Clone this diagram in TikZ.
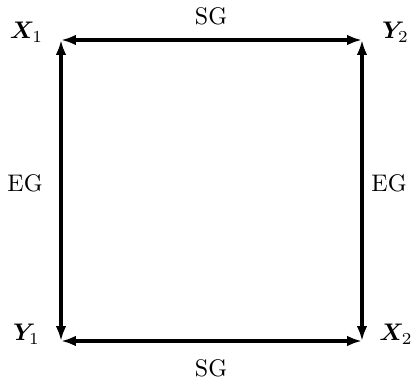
\documentclass[tikz,border=0pt]{standalone}
\usepackage{amsmath}
\usepackage{bm}
\usetikzlibrary{arrows.meta}
\tikzset{
  edge/.style={line width=1.6pt, {Latex[length=6.2pt,width=4.4pt]}-{Latex[length=6.2pt,width=4.4pt]}},
  lab/.style={anchor=base, inner sep=0pt, font=\normalsize}
}
\begin{document}
\begin{tikzpicture}[x=0.41667pt, y=-0.41667pt]
\useasboundingbox (0,0) rectangle (414,384);
\coordinate (X1) at (61,40);
\coordinate (Y2) at (362,40);
\coordinate (Y1) at (61,341);
\coordinate (X2) at (362,341);
\draw[edge] (X1) -- (Y2);
\draw[edge] (Y1) -- (X2);
\draw[edge] (Y1) -- (X1);
\draw[edge] (X2) -- (Y2);
\node[lab] (lX1) at (26.5,39) {$\bm{X}_1$};
\node[lab] (lY2) at (395.5,38.5) {$\bm{Y}_2$};
\node[lab] (lY1) at (26.5,341) {$\bm{Y}_1$};
\node[lab] (lX2) at (396,341) {$\bm{X}_2$};
\node[lab] (sgt) at (211,25) {SG};
\node[lab] (sgb) at (211,377) {SG};
\node[lab] (egl) at (25,192) {EG};
\node[lab] (egr) at (389,192) {EG};
\end{tikzpicture}
\end{document}
